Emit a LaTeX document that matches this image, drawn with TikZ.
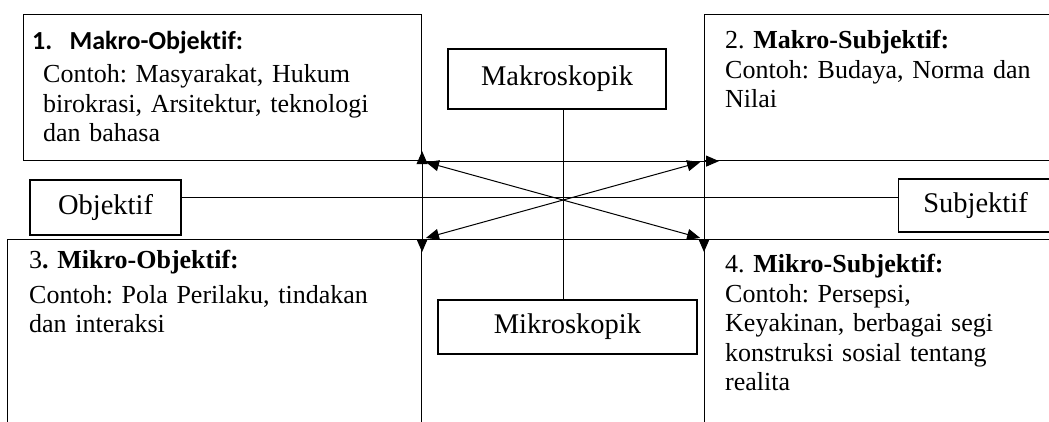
\documentclass[tikz,border=0pt]{standalone}
\usepackage{fontspec}
\setmainfont{Liberation Serif}
\newfontfamily\calibri[Ligatures=NoCommon]{Carlito}
\usetikzlibrary{arrows.meta, positioning}
\frenchspacing
\tikzset{
  quad/.style={
    rectangle, draw=black, line width=1.1pt, inner sep=0pt, anchor=north west
  },
  lbl/.style={rectangle, draw=black, line width=1.1pt, inner sep=0pt, font=\fontsize{28.5}{30}\selectfont},
  txt/.style={inner sep=0pt, align=left, text width=360pt, font=\fontsize{26}{29.5}\selectfont},
  link/.style={line width=1pt}
}

\begin{document}
\begin{tikzpicture}[x=1pt, y=-1pt, >={Triangle[length=13pt, width=11pt]}]
    \clip (0,0) rectangle (1049,421);
    % quadrants
    \node[quad, minimum width=398, minimum height=146] (makObj) at (23,14) {};
    \node[quad, minimum width=356, minimum height=146] (makSub) at (704,14) {};
    \node[quad, minimum width=414, minimum height=201] (mikObj) at (7,239) {};
    \node[quad, minimum width=356, minimum height=201] (mikSub) at (704,239) {};
    \node[txt, below right=17pt and 20pt of makObj.north west] (makObjTxt) {\hspace*{-11pt}{\calibri\bfseries 1.\ \ Makro-Objektif:}\\[4pt] Contoh: Masyarakat, Hukum\\ birokrasi, Arsitektur, teknologi\\ dan bahasa};
    \node[txt, below right=16pt and 21pt of makSub.north west] (makSubTxt) {2. \textbf{Makro-Subjektif:}\\ Contoh: Budaya, Norma dan\\ Nilai};
    \node[txt, below right=11pt and 22pt of mikObj.north west] (mikObjTxt) {3\textbf{. Mikro-Objektif:}\\[5pt] Contoh: Pola Perilaku, tindakan\\ dan interaksi};
    \node[txt, below right=15pt and 21pt of mikSub.north west] (mikSubTxt) {4. \textbf{Mikro-Subjektif:}\\ Contoh: Persepsi,\\ Keyakinan, berbagai segi\\ konstruksi sosial tentang\\ realita};
    % axis labels
    \node[lbl, minimum width=218, minimum height=60] (makro) at (557,79) {Makroskopik};
    \node[lbl, minimum width=259, minimum height=54] (mikro) at (567.5,327) {Mikroskopik};
    \node[lbl, minimum width=151, minimum height=55] (obj) at (105.5,207.5) {Objektif};
    \node[lbl, minimum width=154, minimum height=53, anchor=west] (subj) at (898,205.5) {Subjektif};
    \coordinate (axis) at (563,197);
    \draw[link] (makro.south -| axis) -- (mikro.north -| axis);
    \draw[link] (obj.east |- axis) -- (subj.west |- axis);
    % arrows between quadrants
    \draw[link, ->, shorten >=-15pt] (makObj.south east) -- (makSub.south west);
    \draw[link, <->, shorten <=-10pt, shorten >=-13pt] (makObj.south east) -- (mikObj.north east);
    \draw[link, ->, shorten >=-13pt] (makSub.south west) -- (mikSub.north west);
    \draw[link] (mikObj.north east) -- (mikSub.north west);
    \draw[link, <->, shorten <=4pt, shorten >=4pt] (makObj.south east) -- (mikSub.north west);
    \draw[link, <->, shorten <=4pt, shorten >=4pt] (mikObj.north east) -- (makSub.south west);
\end{tikzpicture}
\end{document}
